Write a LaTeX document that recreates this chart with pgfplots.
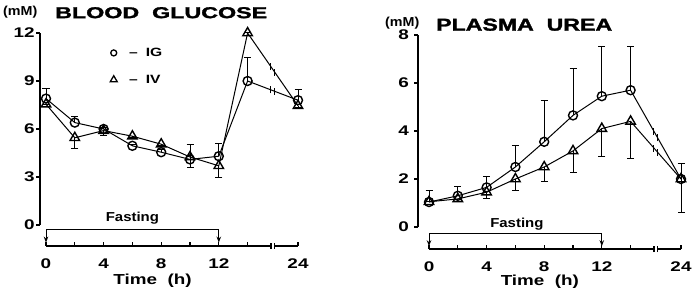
\documentclass[border=0pt]{standalone}
\usepackage{graphicx}
\usepackage{pgfplots}
\pgfplotsset{compat=1.18}
\usetikzlibrary{arrows.meta}
\usepackage{fontspec}
\setmainfont{Liberation Sans}
\newfontfamily\heavyfont{Liberation Sans Bold}[FakeBold=1.5]

\newcommand{\sx}[2]{\scalebox{#1}[1]{#2}}
\newcommand{\tk}[1]{\fontsize{14bp}{16bp}\selectfont\bfseries\sx{1.35}{#1}}

\pgfplotstableread{
x    y     e
0    7.9   0.6
2    6.4   0.35
4    6.0   0.1
6    4.95  0.1
8    4.55  0.15
10   4.1   0.95
12   4.3   0.8
14   9.0   1.45
17.5 7.8   0.65
}\glcIG
\pgfplotstableread{
x    y     e
0    7.55  0.05
2    5.45  0.7
4    5.9   0.3
6    5.55  0.1
8    5.05  0.1
10   4.25  0.65
12   3.7   0.75
14   12.0  0.0
17.5 7.45  0.1
}\glcIV
\pgfplotstableread{
x    y     e
0    1.04  0.5
2    1.3   0.4
4    1.65  0.45
6    2.5   0.9
8    3.55  1.7
10   4.65  1.95
12   5.45  2.05
14   5.7   1.8
17.5 2.0   0.65
}\ureIG
\pgfplotstableread{
x    y     e
0    1.05  0.0
2    1.17  0.12
4    1.45  0.28
6    2.0   0.5
8    2.5   0.62
10   3.17  0.92
12   4.1   1.18
14   4.4   1.53
17.5 2.0   1.4
}\ureIV

\pgfplotsset{
  panel/.style={scale only axis, hide axis, clip=false, anchor=south west, xmax=18},
  ser/.style={black, line width=1bp, mark options={solid, line width=1.4bp},
     error bars/y explicit,
     error bars/error bar style={line width=1bp},
     error bars/error mark options={line width=1bp, mark size=3.5bp, rotate=90}},
  igs/.style={ser, mark=o, mark size=4.5bp, error bars/y dir=plus},
  ivs/.style={ser, mark=triangle, mark size=5.5bp, error bars/y dir=minus},
}
\tikzset{axl/.style={black, line width=1.2bp},
  brk/.style={line width=1bp},
  fast/.style={line width=1bp, {Stealth[length=6bp,width=4.5bp]}-{Stealth[length=6bp,width=4.5bp]}}}

\begin{document}
\begin{tikzpicture}
\useasboundingbox (0,0) rectangle (695bp,293bp);

% ---------------- BLOOD GLUCOSE ----------------
\begin{axis}[panel, at={(38.8bp,4bp)}, width=266.4bp, height=272bp,
  xmin=-0.5, ymin=-4, ymax=13,
  legend style={draw=none, fill=none, inner sep=0pt, at={(axis cs:4.45,11.2)},
     anchor=north west, row sep=13bp, cells={anchor=west},
     font=\fontsize{12bp}{13bp}\selectfont\bfseries},
  legend image code/.code={\draw[#1] plot coordinates {(0bp,0bp)};},
]
\addplot+[forget plot, igs] table[x=x, y=y, y error plus=e] {\glcIG};
\addplot+[forget plot, ivs] table[x=x, y=y, y error minus=e] {\glcIV};
\addlegendimage{only marks, mark=o, mark size=3bp, black, mark options={line width=1.3bp}}
\addlegendentry{\hspace{10bp}\sx{1.3}{--}\hspace{8bp}\sx{1.3}{IG}}
\addlegendimage{only marks, mark=triangle, mark size=4bp, black, mark options={line width=1.3bp}}
\addlegendentry{\hspace{10bp}\sx{1.3}{--}\hspace{8bp}\sx{1.3}{IV}}
% y axis
\draw[axl] (axis cs:-0.42,0) -- (axis cs:-0.42,12);
\pgfplotsinvokeforeach{0,3,6,9,12}{
  \draw[axl] (axis cs:-0.42,#1) -- ++(-4bp,0bp);
  \node[anchor=east, inner sep=0pt] at ([xshift=-5bp]axis cs:-0.42,#1) {\tk{#1}};
}
% x axis
\draw[axl] (axis cs:0,-1.31) -- (axis cs:15.62,-1.31);
\draw[axl] (axis cs:15.88,-1.31) -- (axis cs:17.5,-1.31);
\draw[axl] ([yshift=-3bp]axis cs:15.62,-1.31) -- ++(0bp,6bp);
\draw[axl] ([yshift=-3bp]axis cs:15.88,-1.31) -- ++(0bp,6bp);
\pgfplotsinvokeforeach{0,2,...,14,17.5}{
  \draw[axl] (axis cs:#1,-1.31) -- ++(0bp,4bp);
}
\pgfplotsinvokeforeach{0,4,8,12}{
  \node[anchor=base, inner sep=0pt] at (axis cs:#1,-2.69) {\tk{#1}};
}
\node[anchor=base, inner sep=0pt] at (axis cs:17.5,-2.69) {\tk{24}};
\node[anchor=base, inner sep=0pt] at (axis cs:7.4,-3.69)
   {\fontsize{14.5bp}{16bp}\selectfont\bfseries\sx{1.3}{Time\ \ (h)}};
% fasting
\draw[fast] (axis cs:0,-1.1) -- (axis cs:0,-0.31) -- (axis cs:12,-0.31) -- (axis cs:12,-1.1);
\node[anchor=base, inner sep=0pt] at (axis cs:6,0.19)
   {\fontsize{13bp}{14bp}\selectfont\bfseries\sx{1.15}{Fasting}};
% line breaks
\draw[brk] ([yshift=-3.5bp]axis cs:15.62,8.445) -- ++(0bp,7bp);
\draw[brk] ([yshift=-3.5bp]axis cs:15.88,8.355) -- ++(0bp,7bp);
\draw[brk] ([yshift=-3.5bp]axis cs:15.62,9.894) -- ++(0bp,7bp);
\draw[brk] ([yshift=-3.5bp]axis cs:15.88,9.556) -- ++(0bp,7bp);
\end{axis}

% ---------------- PLASMA UREA ----------------
\begin{axis}[panel, at={(414.6bp,6bp)}, width=273.6bp, height=264bp,
  xmin=-1, ymin=-2.5, ymax=8.5]
\addplot+[igs] table[x=x, y=y, y error plus=e] {\ureIG};
\addplot+[ivs] table[x=x, y=y, y error minus=e] {\ureIV};
% y axis
\draw[axl] (axis cs:-0.76,0) -- (axis cs:-0.76,8);
\pgfplotsinvokeforeach{0,2,4,6,8}{
  \draw[axl] (axis cs:-0.76,#1) -- ++(-4bp,0bp);
  \node[anchor=east, inner sep=0pt] at ([xshift=-9bp]axis cs:-0.76,#1) {\tk{#1}};
}
% x axis
\draw[axl] (axis cs:0,-0.917) -- (axis cs:15.62,-0.917);
\draw[axl] (axis cs:15.88,-0.917) -- (axis cs:17.5,-0.917);
\draw[axl] ([yshift=-3bp]axis cs:15.62,-0.917) -- ++(0bp,6bp);
\draw[axl] ([yshift=-3bp]axis cs:15.88,-0.917) -- ++(0bp,6bp);
\pgfplotsinvokeforeach{0,2,...,14,17.5}{
  \draw[axl] (axis cs:#1,-0.917) -- ++(0bp,4bp);
}
\pgfplotsinvokeforeach{0,4,8,12}{
  \node[anchor=base, inner sep=0pt] at (axis cs:#1,-1.875) {\tk{#1}};
}
\node[anchor=base, inner sep=0pt] at (axis cs:17.5,-1.875) {\tk{24}};
\node[anchor=base, inner sep=0pt] at (axis cs:7.7,-2.42)
   {\fontsize{14.5bp}{16bp}\selectfont\bfseries\sx{1.3}{Time\ \ (h)}};
% fasting
\draw[fast] (axis cs:0,-0.8) -- (axis cs:0,-0.29) -- (axis cs:12,-0.29) -- (axis cs:12,-0.8);
\node[anchor=base, inner sep=0pt] at (axis cs:6.1,-0.04)
   {\fontsize{13bp}{14bp}\selectfont\bfseries\sx{1.15}{Fasting}};
% line breaks
\draw[brk] ([yshift=-3.5bp]axis cs:15.62,3.988) -- ++(0bp,7bp);
\draw[brk] ([yshift=-3.5bp]axis cs:15.88,3.713) -- ++(0bp,7bp);
\draw[brk] ([yshift=-3.5bp]axis cs:15.62,3.289) -- ++(0bp,7bp);
\draw[brk] ([yshift=-3.5bp]axis cs:15.88,3.111) -- ++(0bp,7bp);
\end{axis}

% titles
\node[anchor=base west, inner sep=0pt] at (3bp,277bp)
  {\fontsize{13bp}{15bp}\selectfont\bfseries\sx{1.1}{(mM)}};
\node[anchor=south west, inner sep=0pt] at (55bp,274.5bp)
  {\resizebox{212bp}{11bp}{\heavyfont BLOOD\ \ GLUCOSE}};
\node[anchor=base west, inner sep=0pt] at (385bp,266bp)
  {\fontsize{13bp}{15bp}\selectfont\bfseries\sx{1.1}{(mM)}};
\node[anchor=south west, inner sep=0pt] at (436bp,262bp)
  {\resizebox{176bp}{12bp}{\heavyfont PLASMA\ \ UREA}};
\end{tikzpicture}
\end{document}
